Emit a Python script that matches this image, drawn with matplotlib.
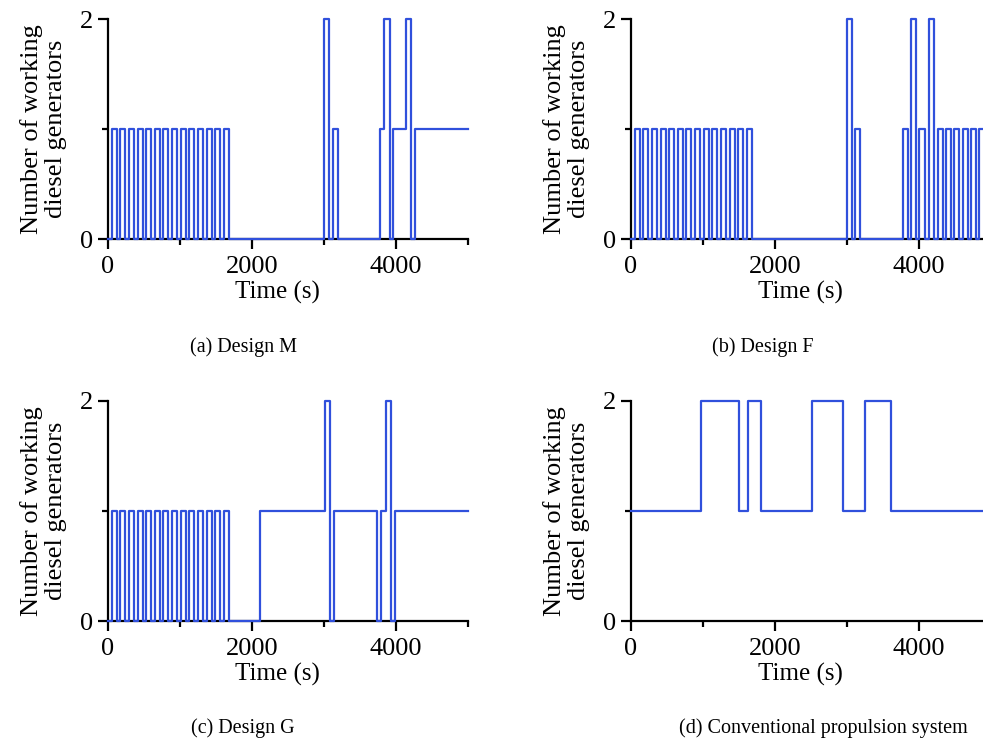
import numpy as np
import matplotlib.pyplot as plt
from matplotlib.ticker import MultipleLocator

plt.rcParams['font.family'] = ['Liberation Serif', 'DejaVu Serif']

# start-up on/off cycling (same in designs M, F, G)
train_t = [0, 50, 120, 170, 240, 290, 360, 410, 480, 530, 600, 650, 720, 770, 840,
           890, 960, 1010, 1080, 1130, 1200, 1250, 1320, 1370, 1440, 1490, 1560, 1610, 1680]
train_n = [0, 1, 0, 1, 0, 1, 0, 1, 0, 1, 0, 1, 0, 1, 0,
           1, 0, 1, 0, 1, 0, 1, 0, 1, 0, 1, 0, 1, 0]

# design M
m_t = [3000, 3070, 3120, 3190, 3780, 3830, 3910, 3955, 4145, 4213, 4270, 5000]
m_n = [2, 0, 1, 0, 1, 2, 0, 1, 2, 0, 1, 1]

# design F
f_t = [3000, 3070, 3110, 3180, 3775, 3845, 3895, 3965, 4005, 4080, 4140, 4210, 4260,
       4330, 4375, 4445, 4490, 4560, 4605, 4675, 4720, 4790, 4840, 4910, 4955, 5000]
f_n = [2, 0, 1, 0, 1, 0, 2, 0, 1, 0, 2, 0, 1,
       0, 1, 0, 1, 0, 1, 0, 1, 0, 1, 0, 1, 1]

# design G
g_t = [2115, 3010, 3080, 3140, 3735, 3790, 3855, 3925, 3980, 5000]
g_n = [1, 2, 0, 1, 0, 1, 2, 0, 1, 1]

# conventional propulsion
c_t = [0, 970, 1500, 1620, 1800, 2520, 2950, 3250, 3610, 5000]
c_n = [1, 2, 1, 2, 1, 2, 1, 2, 1, 1]

series = [
    (train_t + m_t, train_n + m_n, '(a) Design M'),
    (train_t + f_t, train_n + f_n, '(b) Design F'),
    (train_t + g_t, train_n + g_n, '(c) Design G'),
    (c_t, c_n, '(d) Conventional propulsion system'),
]

W, H = 983, 738
fig = plt.figure(figsize=(W / 100, H / 100), dpi=100)

# axes boxes in pixels: (x of t=0, y of n=0 from top)
origins = [(108, 239), (631, 239), (108, 621), (631, 621)]
cap_pos = [(243, 347), (763, 347), (243, 728), (823, 728)]
ax_w, ax_h = 360, 220

for (t, n, cap), (x0, y0), (cx, cy) in zip(series, origins, cap_pos):
    ax = fig.add_axes([x0 / W, 1 - y0 / H, ax_w / W, ax_h / H])
    ax.step(t, n, where='post', color='#3050dc', lw=1.6, clip_on=False, zorder=3)
    ax.set_xlim(0, 5000)
    ax.set_ylim(0, 2)
    ax.xaxis.set_major_locator(MultipleLocator(2000))
    ax.xaxis.set_minor_locator(MultipleLocator(1000))
    ax.yaxis.set_major_locator(MultipleLocator(2))
    ax.yaxis.set_minor_locator(MultipleLocator(1))
    for s in ['top', 'right']:
        ax.spines[s].set_visible(False)
    for s in ['left', 'bottom']:
        ax.spines[s].set_linewidth(1.6)
    ax.tick_params(which='major', direction='out', length=7.5, width=1.6,
                   labelsize=19)
    ax.tick_params(axis='y', which='major', pad=3.5)
    ax.tick_params(axis='x', which='major', pad=5)
    ax.tick_params(which='minor', direction='out', length=4, width=1.6)
    ax.set_xlabel('Time (s)', fontsize=18)
    ax.xaxis.set_label_coords(0.47, -0.19)
    ax.set_ylabel('Number of working\ndiesel generators', fontsize=19, linespacing=1.1)
    ax.yaxis.set_label_coords(-0.114, 0.5)
    fig.text(cx / W, 1 - cy / H, cap, fontsize=14.5, ha='center', va='center')

fig.savefig('out.png', dpi=100)
